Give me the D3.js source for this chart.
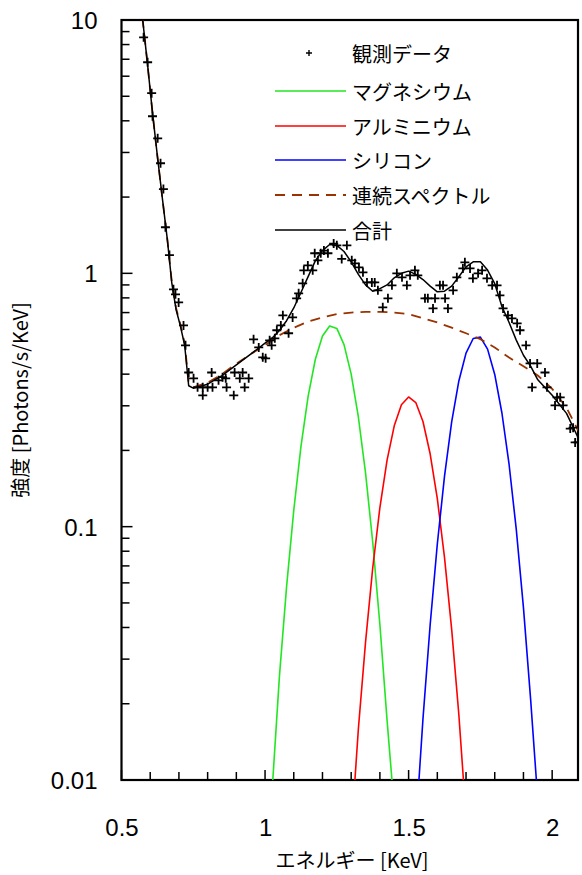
<!DOCTYPE html>
<html><head><meta charset="utf-8">
<script src="https://cdn.jsdelivr.net/npm/d3@7"></script>
<style>body{margin:0;background:#fff}svg{display:block}</style>
</head><body><svg id="c" width="582" height="875"></svg>
<script>
// ---- data ----
const xTickLabels = [0.5, 1, 1.5, 2];
const yTickLabels = [0.01, 0.1, 1, 10];

const legendLabels = ["観測データ", "マグネシウム", "アルミニウム", "シリコン", "連続スペクトル", "合計"];

const obsE = [0.577,0.591,0.605,0.608,0.626,0.636,0.646,0.653,0.667,0.681,0.688,0.699,0.716,0.723,0.734,0.751,0.765,0.783,0.800,0.817,0.783,0.814,0.838,0.852,0.863,0.866,0.891,0.894,0.922,0.912,0.943,0.929,0.960,0.978,0.992,1.002,1.016,1.023,1.034,1.041,1.055,1.062,1.082,1.096,1.110,1.117,1.131,1.135,1.149,1.166,1.173,1.184,1.194,1.205,1.219,1.239,1.250,1.267,1.285,1.302,1.313,1.327,1.341,1.355,1.372,1.382,1.393,1.428,1.410,1.442,1.459,1.477,1.494,1.505,1.522,1.532,1.557,1.567,1.585,1.592,1.609,1.620,1.627,1.637,1.655,1.668,1.689,1.696,1.714,1.724,1.742,1.756,1.773,1.791,1.808,1.818,1.829,1.846,1.860,1.878,1.888,1.909,1.923,1.948,1.975,1.930,1.982,2.017,2.010,2.038,2.028,2.063,2.073,2.080,2.090];
const obsI = [8.54,6.81,5.14,4.17,3.41,2.72,2.15,1.52,1.18,0.865,0.826,0.768,0.623,0.52,0.406,0.385,0.355,0.355,0.355,0.355,0.33,0.406,0.378,0.389,0.385,0.355,0.33,0.406,0.406,0.385,0.385,0.355,0.549,0.51,0.466,0.462,0.544,0.52,0.554,0.596,0.623,0.683,0.58,0.67,0.797,0.834,0.913,1.028,1.075,1.028,1.20,1.126,1.20,1.23,1.20,1.31,1.29,1.14,1.29,1.126,1.095,1.056,1.009,0.921,0.921,0.921,0.857,0.797,0.734,0.897,1.0,0.964,0.897,0.982,1.028,0.982,0.797,0.797,0.727,0.797,0.897,0.897,0.797,0.727,0.857,0.964,1.046,1.105,1.046,0.956,1.0,1.028,0.956,0.897,0.897,0.819,0.727,0.683,0.664,0.635,0.596,0.52,0.441,0.441,0.406,0.355,0.355,0.324,0.301,0.301,0.324,0.244,0.246,0.215,0.215];

const mgE = [1.027,1.05,1.075,1.10,1.125,1.15,1.175,1.20,1.225,1.25,1.275,1.30,1.325,1.35,1.375,1.40,1.425,1.442];
const mgI = [0.01,0.0256,0.058,0.116,0.207,0.327,0.457,0.566,0.62,0.606,0.523,0.40,0.271,0.163,0.087,0.041,0.0172,0.01];

const alE = [1.313,1.325,1.35,1.375,1.40,1.425,1.45,1.475,1.50,1.525,1.55,1.575,1.60,1.625,1.65,1.675,1.691];
const alI = [0.01,0.0159,0.035,0.0687,0.119,0.183,0.25,0.303,0.325,0.309,0.26,0.194,0.129,0.0756,0.0393,0.0181,0.01];

const siE = [1.536,1.55,1.575,1.60,1.625,1.65,1.675,1.70,1.725,1.75,1.775,1.80,1.825,1.85,1.875,1.90,1.925,1.945];
const siI = [0.01,0.0174,0.0409,0.0854,0.158,0.259,0.376,0.484,0.553,0.56,0.502,0.399,0.281,0.176,0.0975,0.0479,0.0208,0.01];

const contE = [0.573,0.59,0.608,0.625,0.643,0.66,0.675,0.69,0.705,0.72,0.734,0.75,0.80,0.85,0.90,0.95,1.00,1.05,1.10,1.15,1.20,1.25,1.30,1.35,1.40,1.45,1.50,1.55,1.60,1.65,1.70,1.75,1.80,1.85,1.90,1.95,2.00,2.05,2.09];
const contI = [10.2,6.8,4.3,2.9,1.95,1.35,0.93,0.73,0.63,0.53,0.37,0.355,0.37,0.40,0.44,0.48,0.52,0.57,0.61,0.645,0.67,0.69,0.70,0.705,0.705,0.70,0.69,0.665,0.64,0.61,0.58,0.55,0.51,0.465,0.43,0.395,0.35,0.295,0.24];

const totE = [0.573,0.59,0.608,0.625,0.643,0.66,0.675,0.69,0.705,0.72,0.734,0.75,0.80,0.85,0.90,0.95,1.00,1.025,1.05,1.075,1.10,1.125,1.15,1.175,1.20,1.225,1.25,1.275,1.30,1.325,1.35,1.375,1.40,1.425,1.45,1.475,1.50,1.525,1.55,1.575,1.60,1.625,1.65,1.675,1.70,1.725,1.75,1.775,1.80,1.825,1.85,1.875,1.90,1.925,1.95,2.00,2.05,2.09];
const totI = [10.2,6.8,4.3,2.9,1.95,1.35,0.92,0.72,0.62,0.52,0.36,0.352,0.365,0.395,0.435,0.48,0.53,0.555,0.595,0.65,0.73,0.84,0.97,1.12,1.23,1.30,1.29,1.22,1.11,0.99,0.90,0.85,0.87,0.90,0.96,1.0,1.02,0.99,0.945,0.89,0.845,0.85,0.89,0.97,1.06,1.11,1.11,1.03,0.91,0.74,0.64,0.545,0.475,0.43,0.38,0.33,0.28,0.225];

// ---- layout ----
const L = 121.5, R = 578, T = 20, B = 780;
const svg = d3.select("#c");
svg.append("rect").attr("width",582).attr("height",875).attr("fill","#fff");

const x = d3.scaleLinear().domain([0.5, 2.09]).range([L, R]);
const y = d3.scaleLog().domain([0.01, 10]).range([B, T]);

svg.append("defs").append("clipPath").attr("id","clip")
  .append("rect").attr("x",L).attr("y",T).attr("width",R-L).attr("height",B-T);

const numFont = "'Liberation Sans', Arial, sans-serif";
const jpFont = "'Noto Sans CJK JP', 'Noto Sans', sans-serif";

// x tick values
const xMinor = d3.range(6, 21).map(d => d/10).filter(d => Math.abs(d*2 - Math.round(d*2)) > 1e-6);
const yMinor = [];
[0.01, 0.1, 1].forEach(dec => { for (let k = 2; k <= 9; k++) yMinor.push(dec*k); });

// axis labels through d3 axes (tick lines drawn separately below)
const gx = svg.append("g").attr("transform",`translate(0,${B})`)
  .call(d3.axisBottom(x).tickValues(xTickLabels).tickSize(0).tickSizeOuter(0).tickFormat(d3.format("")));
gx.select(".domain").remove();
gx.selectAll("text").attr("y", 47).attr("dy", null).attr("dominant-baseline","central")
  .attr("font-family", numFont).attr("font-size", 24).attr("fill","#000");
const gy = svg.append("g").attr("transform",`translate(${L},0)`)
  .call(d3.axisLeft(y).tickValues(yTickLabels).tickSize(0).tickSizeOuter(0).tickFormat(d => String(d)));
gy.select(".domain").remove();
gy.selectAll("text").attr("x", -24).attr("dy", null).attr("dominant-baseline","central")
  .attr("font-family", numFont).attr("font-size", 24).attr("fill","#000").attr("text-anchor","end");

// tick marks (inward)
const tk = svg.append("g").attr("stroke","#000").attr("stroke-width",1.5);
tk.selectAll("line.xmin").data(xMinor).join("line").attr("class","xmin")
  .attr("x1", d => x(d)).attr("x2", d => x(d)).attr("y1", B).attr("y2", B-8);
tk.selectAll("line.xmaj").data(xTickLabels).join("line").attr("class","xmaj")
  .attr("x1", d => x(d)).attr("x2", d => x(d)).attr("y1", B).attr("y2", B-10);
tk.selectAll("line.ymin").data(yMinor).join("line").attr("class","ymin")
  .attr("y1", d => y(d)).attr("y2", d => y(d)).attr("x1", L).attr("x2", L+8);
tk.selectAll("line.ymaj").data(yTickLabels).join("line").attr("class","ymaj")
  .attr("y1", d => y(d)).attr("y2", d => y(d)).attr("x1", L).attr("x2", L+11);

// frame
svg.append("rect").attr("x",L).attr("y",T).attr("width",R-L).attr("height",B-T)
  .attr("fill","none").attr("stroke","#000").attr("stroke-width",2.2);

// lines
const plot = svg.append("g").attr("clip-path","url(#clip)");
const line = d3.line().x(d => x(d[0])).y(d => y(Math.max(d[1], 0.005)));
const series = [
  {E: mgE, I: mgI, color: "#22e622", dash: null, w: 1.6},
  {E: alE, I: alI, color: "#ff0000", dash: null, w: 1.6},
  {E: siE, I: siI, color: "#0000ff", dash: null, w: 1.6},
  {E: contE, I: contI, color: "#993300", dash: "10,7", w: 1.8},
  {E: totE, I: totI, color: "#000000", dash: null, w: 1.5}
];
series.forEach(s => {
  plot.append("path").datum(s.E.map((e,i) => [e, s.I[i]]))
    .attr("d", line).attr("fill","none").attr("stroke", s.color)
    .attr("stroke-width", s.w).attr("stroke-dasharray", s.dash)
    .attr("stroke-linejoin","round");
});

// observed points
const obs = obsE.map((e,i) => [e, obsI[i]]);
const ps = 4.5;
plot.append("g").selectAll("path").data(obs).join("path")
  .attr("d", d => { const cx = x(d[0]), cy = y(d[1]);
    return `M${cx-ps},${cy}H${cx+ps}M${cx},${cy-ps}V${cy+ps}`; })
  .attr("stroke","#000").attr("stroke-width",1.8).attr("fill","none");

// legend
const legY = [53, 91, 126, 160, 195, 230];
const legStyles = [null, series[0], series[1], series[2], series[3], series[4]];
const lg = svg.append("g");
legendLabels.forEach((lab, i) => {
  const yy = legY[i];
  if (i === 0) {
    lg.append("path").attr("d", `M${309-3},${yy}H${309+3}M309,${yy-3}V${yy+3}`)
      .attr("stroke","#000").attr("stroke-width",1.4);
  } else {
    const s = legStyles[i];
    lg.append("line").attr("x1",275).attr("x2",346).attr("y1",yy).attr("y2",yy)
      .attr("stroke", s.color).attr("stroke-width", s.w).attr("stroke-dasharray", s.dash);
  }
  lg.append("text").attr("x",352).attr("y",yy).attr("dominant-baseline","central")
    .attr("font-family", jpFont).attr("font-size", 20).attr("fill","#000").text(lab);
});

// axis titles
svg.append("text").attr("x", 352).attr("y", 859).attr("text-anchor","middle")
  .attr("dominant-baseline","central").attr("font-family", jpFont).attr("font-size", 20)
  .attr("fill","#000").text("エネルギー [KeV]");
svg.append("text").attr("transform","translate(19,400) rotate(-90)").attr("text-anchor","middle")
  .attr("dominant-baseline","central").attr("font-family", jpFont).attr("font-size", 20)
  .attr("fill","#000").text("強度 [Photons/s/KeV]");
</script></body></html>
